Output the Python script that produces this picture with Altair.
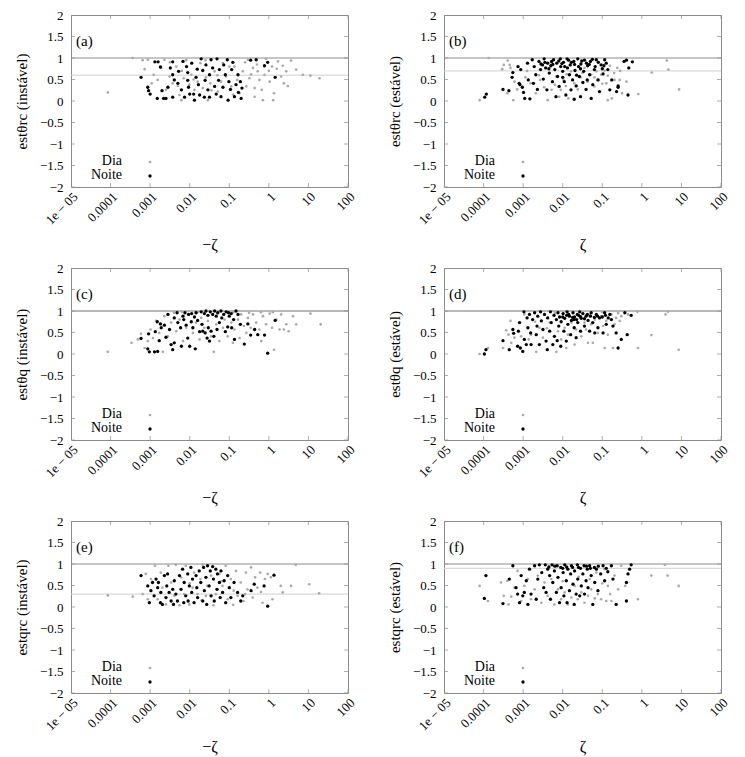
import altair as alt
import pandas as pd

FONT = "Liberation Serif"

# ---------------- axis ticks / labels ----------------
X_TICKS = [1e-5, 1e-4, 1e-3, 1e-2, 1e-1, 1, 10, 100]
X_LABELS = ["1e − 05", "0.0001", "0.001", "0.01", "0.1", "1", "10", "100"]
Y_TICKS = [-2, -1.5, -1, -0.5, 0, 0.5, 1, 1.5, 2]

# ---------------- panel metadata ----------------
PANEL_IDS = ["(a)", "(b)", "(c)", "(d)", "(e)", "(f)"]
Y_TITLES = ["estθrc (instável)", "estθrc (estável)",
            "estθq (instável)", "estθq (estável)",
            "estqrc (instável)", "estqrc (estável)"]
X_TITLES = ["−ζ", "ζ", "−ζ", "ζ", "−ζ", "ζ"]
REF_LINE = [0.6, 0.7, 1.0, 1.0, 0.3, 0.9]
GROUPS = ["Dia", "Noite"]
GROUP_COLORS = ["#a9a9a9", "#000000"]
GROUP_SIZES = [7, 11]

# ---------------- data: (log10 zeta, est) ----------------
A_NOITE = [(-3.23,.55),(-3.06,.32),(-3.04,.24),(-3.0,.16),(-2.88,.91),(-2.8,.91),(-2.82,.06),(-2.74,.79),(-2.7,.24),(-2.66,.06),(-2.6,.06),(-2.55,.32),(-2.49,.77),(-2.43,.61),(-2.43,.91),(-2.39,.49),(-2.43,.09),(-2.3,.41),(-2.28,.69),(-2.21,.26),(-2.17,.92),(-2.13,.09),(-2.08,.80),(-2.05,.66),(-2.05,.48),(-2.03,.32),(-2.0,.16),(-1.95,.88),(-1.9,.16),(-1.88,.02),(-1.84,.55),(-1.81,.74),(-1.78,.38),(-1.75,.14),(-1.71,.98),(-1.67,.71),(-1.63,.09),(-1.61,.48),(-1.59,.84),(-1.54,.26),(-1.5,.61),(-1.5,.09),(-1.46,.96),(-1.42,.77),(-1.37,.34),(-1.33,.16),(-1.31,.98),(-1.27,.48),(-1.25,.73),(-1.21,.10),(-1.16,.32),(-1.14,.84),(-1.1,.61),(-1.05,.96),(-1.03,.02),(-1.01,.45),(-0.97,.27),(-0.94,.73),(-0.91,.90),(-0.87,.10),(-0.83,.38),(-0.78,.61),(-0.77,.20),(-0.72,.45),(-0.7,.06),(-0.68,.30),(-0.46,.95),(-0.32,.96),(-0.11,.82),(-0.03,.90),(0.16,.55)]
A_DIA = [(-4.07,.2),(-3.44,1.0),(-3.19,.95),(-3.14,.74),(-3.06,.96),(-2.96,.41),(-2.91,.61),(-2.81,.49),(-2.72,.77),(-2.64,.96),(-2.6,.26),(-2.51,.57),(-2.43,.41),(-2.34,.8),(-2.26,.14),(-2.21,.02),(-2.15,.53),(-2.09,.95),(-2.01,.38),(-1.96,.61),(-1.88,.26),(-1.8,.45),(-1.73,.88),(-1.67,.3),(-1.59,.55),(-1.54,.02),(-1.48,.41),(-1.37,.69),(-1.29,.22),(-1.21,.45),(-1.16,.88),(-1.08,.57),(-0.95,.34),(-0.87,.8),(-0.8,.49),(-0.74,.18),(-0.66,.69),(-0.57,.34),(-0.53,.96),(-0.49,.53),(-0.4,.77),(-0.36,.3),(-0.28,.69),(-0.24,.49),(-0.18,.26),(-0.11,.61),(-0.07,.98),(0.02,.45),(0.08,.8),(0.11,.02),(0.13,.18),(0.23,.92),(0.31,.57),(0.38,.41),(0.44,.69),(0.48,.35),(0.56,.94),(0.69,.73),(0.86,.61),(1.05,.59),(1.28,.53),(-0.15,.02),(-0.36,.1),(-2.5,.9),(-2.2,.7),(-1.9,.5),(-1.6,.95),(-1.3,.6),(-1.0,.8),(-0.6,.9),(-0.3,.85),(0.0,.7),(0.2,.75),(-2.3,.35),(-1.45,.25),(-0.9,.15),(-0.45,.62),(0.35,.82)]

B_NOITE = [(-3.97,.09),(-3.93,.16),(-3.51,.27),(-3.36,.24),(-3.28,.55),(-3.26,.66),(-3.13,.8),(-3.1,.41),(-3.08,.38),(-3.06,.73),(-3.02,.32),(-2.99,.2),(-2.96,.06),(-2.89,.88),(-2.87,.49),(-2.83,.05),(-2.77,.96),(-2.74,.41),(-2.72,.8),(-2.68,.61),(-2.64,.27),(-2.6,.92),(-2.56,.73),(-2.51,.84),(-2.49,.51),(-2.47,.98),(-2.43,.77),(-2.4,.26),(-2.38,.88),(-2.34,.65),(-2.3,.82),(-2.26,.45),(-2.23,.96),(-2.2,.73),(-2.17,.1),(-2.15,.88),(-2.13,.57),(-2.09,.34),(-2.06,.98),(-2.05,.8),(-2.0,.69),(-1.98,.9),(-1.96,.45),(-1.92,.14),(-1.89,.98),(-1.88,.77),(-1.83,.61),(-1.81,.84),(-1.79,.26),(-1.75,.49),(-1.72,.92),(-1.71,.04),(-1.69,.71),(-1.66,.35),(-1.62,.98),(-1.6,.8),(-1.58,.57),(-1.55,.1),(-1.54,.86),(-1.49,.43),(-1.47,.69),(-1.45,.95),(-1.41,.27),(-1.38,.49),(-1.37,.82),(-1.32,.61),(-1.3,.92),(-1.28,.06),(-1.24,.38),(-1.2,.73),(-1.15,.96),(-1.11,.49),(-1.07,.22),(-1.03,.84),(-0.98,.63),(-0.94,.96),(-0.86,.73),(-0.81,.26),(-0.76,.49),(-0.64,.22),(-0.6,.35),(-0.45,.92),(-0.39,.95),(-0.33,.77),(-0.35,.14),(-0.24,.91),(-0.6,.32),(-2.45,.9),(-2.25,.85),(-2.1,.93),(-1.95,.8),(-1.85,.95),(-1.7,.85),(-1.55,.75),(-1.4,.88),(-1.25,.97),(-1.1,.9),(-1.0,.75),(-0.9,.88),(-2.35,.75),(-2.0,.55),(-1.65,.6),(-2.55,.86),(-2.28,.92),(-2.02,.87),(-1.78,.9),(-1.52,.93),(-1.33,.85),(-1.18,.8),(-0.96,.82)]
B_DIA = [(-4.1,.02),(-3.87,1.0),(-3.53,.74),(-3.49,.84),(-3.39,.94),(-3.34,.84),(-3.32,.77),(-3.25,.02),(-3.4,.18),(-3.22,.45),(-3.15,.27),(-2.94,.55),(-2.81,.41),(-2.68,.18),(-2.57,.49),(-2.47,.32),(-2.38,.02),(-2.28,.26),(-2.2,.38),(-2.17,.57),(-2.09,.1),(-2.05,.26),(-1.98,.49),(-1.92,.35),(-1.86,.06),(-1.79,.69),(-1.71,.41),(-1.62,.27),(-1.54,.55),(-1.45,.77),(-1.37,.45),(-1.28,.61),(-1.2,.34),(-1.15,.69),(-1.09,.49),(-1.03,.61),(-0.94,.71),(-0.9,.41),(-0.86,.59),(-0.81,.82),(-0.76,.06),(-0.69,.49),(-0.62,.77),(-0.56,.49),(-0.5,.18),(-0.39,.45),(-0.09,.16),(0.25,.66),(0.63,.94),(0.67,.73),(0.94,.27),(-0.86,.02),(-2.9,.7),(-2.6,.6),(-2.3,.9),(-1.9,.62),(-1.5,.65),(-1.2,.55),(-1.0,.4),(-0.7,.65),(-0.55,.7)]

C_NOITE = [(-3.23,.36),(-3.06,.12),(-3.02,.05),(-3.04,.47),(-2.89,.05),(-2.81,.06),(-2.87,.52),(-2.82,.75),(-2.77,.31),(-2.74,.7),(-2.72,.61),(-2.64,.67),(-2.6,.39),(-2.55,.92),(-2.51,.57),(-2.47,.22),(-2.43,.1),(-2.39,.26),(-2.39,.84),(-2.32,.96),(-2.3,.73),(-2.23,.61),(-2.21,.18),(-2.17,.88),(-2.15,.8),(-2.12,.96),(-2.09,.67),(-2.05,.37),(-2.03,.92),(-2.0,.18),(-1.96,.75),(-1.95,.94),(-1.92,.61),(-1.88,.86),(-1.86,.12),(-1.84,.96),(-1.8,.78),(-1.75,.52),(-1.71,.98),(-1.69,.69),(-1.67,.53),(-1.63,.94),(-1.61,.49),(-1.59,1.0),(-1.56,.37),(-1.54,.9),(-1.53,.61),(-1.5,.3),(-1.48,.98),(-1.46,.53),(-1.42,.92),(-1.39,.41),(-1.37,1.0),(-1.33,.88),(-1.31,.57),(-1.29,.96),(-1.25,.73),(-1.21,1.0),(-1.19,.84),(-1.14,.92),(-1.1,.52),(-1.08,.98),(-1.04,.63),(-1.02,.96),(-1.0,.88),(-0.95,.94),(-0.94,.61),(-0.89,.8),(-0.87,.34),(-0.83,1.0),(-0.78,.92),(-0.72,.69),(-0.62,.23),(-0.53,.7),(-0.36,.57),(-0.46,.44),(-0.28,.45),(-0.11,.44),(-0.03,.02),(0.16,.78)]
C_DIA = [(-4.07,.05),(-3.47,.26),(-3.31,.34),(-3.23,.47),(-3.14,.14),(-3.06,.3),(-2.99,.57),(-2.93,.37),(-2.85,.77),(-2.77,.49),(-2.68,.05),(-2.64,.88),(-2.55,.41),(-2.47,.73),(-2.4,.96),(-2.34,.53),(-2.26,.8),(-2.17,.3),(-2.09,.61),(-2.01,.92),(-1.92,.49),(-1.84,.73),(-1.75,.34),(-1.71,.84),(-1.63,.61),(-1.54,.77),(-1.46,.41),(-1.39,.05),(-1.33,.69),(-1.25,.3),(-1.16,.61),(-1.12,.8),(-1.04,.41),(-0.95,.73),(-0.91,.26),(-0.87,.57),(-0.78,.8),(-0.74,.37),(-0.7,.92),(-0.63,.65),(-0.57,.49),(-0.53,.84),(-0.46,.61),(-0.4,.92),(-0.32,.73),(-0.24,.57),(-0.19,.3),(-0.15,.88),(-0.07,.69),(0.02,.94),(0.08,.61),(0.13,.1),(0.19,.8),(0.31,.92),(0.38,.57),(0.44,.69),(0.5,.53),(0.61,.88),(0.69,.69),(1.05,.94),(1.31,.69),(0.27,.57),(-2.2,.98),(-1.8,.97),(-1.3,.95),(-0.9,.97),(-0.5,.96),(-0.2,.97),(0.1,.97)]

D_NOITE = [(-3.98,0.0),(-3.94,.1),(-3.51,.31),(-3.35,.1),(-3.26,.57),(-3.24,.48),(-3.14,.18),(-3.12,.53),(-3.09,.73),(-3.07,.14),(-3.01,.06),(-2.98,.98),(-2.97,.34),(-2.92,.22),(-2.9,.84),(-2.88,.61),(-2.84,.92),(-2.81,.49),(-2.8,.22),(-2.76,.8),(-2.71,.96),(-2.67,.45),(-2.65,.65),(-2.63,.88),(-2.59,.22),(-2.56,.98),(-2.54,.77),(-2.5,.57),(-2.46,.92),(-2.42,.3),(-2.39,.1),(-2.38,.84),(-2.33,.53),(-2.31,.98),(-2.29,.73),(-2.25,.22),(-2.22,.9),(-2.21,.41),(-2.16,.8),(-2.14,.31),(-2.12,.96),(-2.1,.65),(-2.08,.86),(-2.05,.18),(-2.04,.75),(-1.99,.94),(-1.97,.53),(-1.95,.83),(-1.91,.3),(-1.89,.98),(-1.87,.69),(-1.83,.88),(-1.8,.45),(-1.78,.78),(-1.74,.96),(-1.71,.61),(-1.7,.86),(-1.66,.38),(-1.63,.92),(-1.62,.73),(-1.57,.98),(-1.55,.53),(-1.53,.83),(-1.49,.94),(-1.45,.65),(-1.41,.88),(-1.36,.78),(-1.32,.53),(-1.28,.96),(-1.24,.73),(-1.19,.49),(-1.15,.92),(-1.11,.61),(-1.07,.84),(-0.98,.49),(-0.94,.96),(-0.9,.69),(-0.81,.92),(-0.77,.8),(-0.73,.65),(-0.65,.49),(-0.6,.14),(-0.52,.34),(-0.43,.96),(-0.37,.45),(-0.27,.9),(-1.9,.9),(-1.75,.85),(-1.6,.9),(-1.45,.82),(-1.3,.88),(-1.2,.85),(-1.0,.86),(-0.85,.84),(-2.0,.86),(-1.65,.8),(-1.85,.92),(-1.55,.87),(-1.38,.92),(-1.12,.88),(-0.92,.9),(-1.72,.8)]
D_DIA = [(-4.1,0.0),(-3.89,.14),(-3.51,.14),(-3.43,.55),(-3.37,.45),(-3.32,.77),(-3.3,.26),(-3.22,.38),(-3.05,.41),(-2.97,.92),(-2.86,.34),(-2.8,.45),(-2.67,.05),(-2.59,.61),(-2.5,.38),(-2.33,.73),(-2.16,.05),(-2.12,.53),(-2.04,.34),(-1.95,.61),(-1.91,.14),(-1.87,.45),(-1.78,.73),(-1.7,.22),(-1.66,.57),(-1.57,.84),(-1.53,.41),(-1.45,.73),(-1.41,.57),(-1.36,.26),(-1.32,.92),(-1.28,.69),(-1.24,.26),(-1.19,.8),(-1.11,.49),(-1.03,.88),(-0.98,.65),(-0.94,.14),(-0.9,.77),(-0.86,.45),(-0.77,.92),(-0.73,.14),(-0.69,.69),(-0.65,.84),(-0.56,.77),(-0.52,.88),(-0.35,.92),(-0.11,.98),(-0.1,.14),(0.24,.44),(0.6,.92),(0.66,.98),(0.93,.1),(-2.7,.75),(-2.4,.6),(-2.2,.95),(-1.5,.95),(-1.0,.97),(-0.6,.95)]

E_NOITE = [(-3.23,.73),(-3.06,.49),(-3.02,.1),(-2.98,.38),(-2.94,.57),(-2.9,.26),(-2.85,.65),(-2.81,.45),(-2.79,.57),(-2.74,.1),(-2.73,.34),(-2.69,.06),(-2.64,.73),(-2.6,.22),(-2.58,.49),(-2.56,.77),(-2.52,.34),(-2.47,.14),(-2.43,.41),(-2.41,.06),(-2.39,.61),(-2.35,.3),(-2.31,.14),(-2.26,.73),(-2.22,.41),(-2.18,.88),(-2.15,.1),(-2.14,.57),(-2.1,.26),(-2.05,.77),(-2.04,.14),(-2.01,.49),(-1.97,.92),(-1.95,.34),(-1.93,.65),(-1.89,.1),(-1.84,.73),(-1.82,.45),(-1.8,.22),(-1.76,.84),(-1.72,.57),(-1.67,.14),(-1.65,.92),(-1.63,.38),(-1.59,.69),(-1.57,.06),(-1.55,.96),(-1.51,.49),(-1.48,.84),(-1.46,.26),(-1.42,.94),(-1.4,.65),(-1.38,.14),(-1.34,.88),(-1.31,.41),(-1.3,.77),(-1.25,.57),(-1.23,.22),(-1.21,.84),(-1.17,.34),(-1.13,.61),(-1.09,.1),(-1.04,.73),(-1.0,.45),(-0.96,.22),(-0.88,.57),(-0.79,.34),(-0.71,.14),(-0.66,.26),(-0.45,.38),(-0.37,.53),(-0.12,.49),(-0.03,.02),(0.13,.74)]
E_DIA = [(-4.07,.27),(-3.44,.24),(-3.19,.3),(-3.11,.77),(-3.06,.18),(-2.98,.65),(-2.88,.96),(-2.81,.18),(-2.73,.8),(-2.69,.45),(-2.6,.06),(-2.54,.96),(-2.47,.57),(-2.39,.26),(-2.35,.98),(-2.26,.04),(-2.22,.69),(-2.14,.3),(-2.1,.96),(-2.01,.06),(-1.93,.45),(-1.89,.8),(-1.8,.3),(-1.73,.65),(-1.67,.98),(-1.59,.26),(-1.55,.49),(-1.46,.73),(-1.4,.04),(-1.34,.3),(-1.25,.77),(-1.17,.49),(-1.09,.96),(-1.04,.18),(-0.96,.65),(-0.89,.38),(-0.83,.84),(-0.79,.26),(-0.71,.57),(-0.64,.14),(-0.58,.8),(-0.54,.41),(-0.45,.92),(-0.41,.22),(-0.35,.69),(-0.29,.45),(-0.22,.8),(-0.16,.1),(-0.1,.65),(-0.03,.77),(0.05,.69),(0.09,.18),(0.3,.49),(0.35,.34),(0.56,.49),(0.68,.98),(1.02,.53),(1.27,.32),(-2.0,.55),(-1.7,.15),(-1.2,.6),(-0.9,.05),(-0.6,.3),(-0.2,.35)]

F_NOITE = [(-3.98,.2),(-3.94,.73),(-3.51,.08),(-3.35,.65),(-3.26,.96),(-3.18,.45),(-3.14,.3),(-3.09,.1),(-3.05,.73),(-3.01,.26),(-2.97,.34),(-2.92,.61),(-2.88,.06),(-2.84,.88),(-2.8,.3),(-2.71,.96),(-2.67,.18),(-2.63,.65),(-2.59,.98),(-2.53,.8),(-2.48,.45),(-2.44,.98),(-2.42,.34),(-2.38,.88),(-2.33,.73),(-2.31,.18),(-2.27,.98),(-2.25,.57),(-2.21,.84),(-2.16,.34),(-2.14,.96),(-2.12,.69),(-2.08,.1),(-2.05,.92),(-2.04,.45),(-1.99,.8),(-1.97,.26),(-1.95,.98),(-1.91,.61),(-1.89,.1),(-1.87,.88),(-1.83,.38),(-1.8,.77),(-1.78,.96),(-1.74,.53),(-1.71,.06),(-1.7,.84),(-1.66,.3),(-1.63,.98),(-1.62,.65),(-1.57,.26),(-1.55,.9),(-1.53,.49),(-1.49,.77),(-1.46,.96),(-1.45,.3),(-1.41,.61),(-1.38,.88),(-1.36,.45),(-1.32,.96),(-1.28,.73),(-1.24,.06),(-1.19,.57),(-1.15,.88),(-1.11,.38),(-1.04,.77),(-0.98,.96),(-0.94,.61),(-0.86,.82),(-0.77,.96),(-0.73,.65),(-0.65,.06),(-0.39,.57),(-0.39,.14),(-0.35,.77),(-0.31,.88),(-0.27,.98),(-2.2,.95),(-1.9,.93),(-1.6,.92),(-1.3,.9),(-1.1,.95),(-2.35,.93),(-2.0,.9),(-1.75,.92),(-1.4,.95),(-1.2,.92),(-0.9,.9)]
F_DIA = [(-4.1,.49),(-3.89,.14),(-3.56,.57),(-3.49,.26),(-3.4,.61),(-3.37,.06),(-3.3,.24),(-3.22,.45),(-3.14,.84),(-3.05,.14),(-2.97,.49),(-2.88,.65),(-2.8,.18),(-2.71,.41),(-2.63,.73),(-2.54,.1),(-2.46,.57),(-2.38,.26),(-2.29,.65),(-2.21,.06),(-2.12,.41),(-2.04,.18),(-1.95,.34),(-1.87,.06),(-1.78,.22),(-1.7,.49),(-1.62,.18),(-1.53,.34),(-1.45,.1),(-1.36,.26),(-1.28,.41),(-1.19,.2),(-1.11,.3),(-1.03,.18),(-0.94,.88),(-0.9,.14),(-0.86,.49),(-0.77,.14),(-0.69,.73),(-0.6,.41),(-0.52,.96),(-0.42,.49),(-0.1,.18),(0.24,.73),(0.58,.98),(0.65,.73),(0.93,.49),(-1.15,.8),(-1.32,.65),(-1.6,.7),(-2.0,.6),(-0.8,.3),(-1.0,.55)]

PANEL_DATA = [(A_DIA, A_NOITE), (B_DIA, B_NOITE), (C_DIA, C_NOITE),
              (D_DIA, D_NOITE), (E_DIA, E_NOITE), (F_DIA, F_NOITE)]

W, H = 277, 172


def label_expr():
    e = f"'{X_LABELS[-1]}'"
    for t, s in reversed(list(zip(X_TICKS[:-1], X_LABELS[:-1]))):
        e = f"datum.value < {t * 3:g} ? '{s}' : {e}"
    return e


def panel(i):
    dia, noite = PANEL_DATA[i]
    rows = [{"zeta": 10 ** lx, "est": y, "grupo": "Dia"} for lx, y in dia]
    rows += [{"zeta": 10 ** lx, "est": y, "grupo": "Noite"} for lx, y in noite]
    df = pd.DataFrame(rows)

    xs = alt.Scale(type="log", domain=[1e-5, 100])
    ys = alt.Scale(domain=[-2, 2])
    xaxis = alt.Axis(values=X_TICKS, labelExpr=label_expr(), labelAngle=-45,
                     ticks=False, domain=False, grid=False, labelPadding=3,
                     labelFontSize=13, title=X_TITLES[i], titleFontSize=16,
                     titlePadding=10 if i < 4 else 6, labelFont=FONT, titleFont=FONT,
                     titleFontWeight="normal", labelColor="black", titleColor="black")
    yaxis = alt.Axis(values=Y_TICKS, format="~g", ticks=False, domain=False, grid=False,
                     labelPadding=8, labelFontSize=13, title=Y_TITLES[i],
                     titleFontSize=15, titlePadding=10, labelFont=FONT, titleFont=FONT,
                     titleFontWeight="normal", labelColor="black", titleColor="black")
    X = lambda f: alt.X(f, scale=xs, axis=xaxis)
    Y = lambda f: alt.Y(f, scale=ys, axis=yaxis)

    refs = pd.DataFrame({"v": [REF_LINE[i], 1.0], "c": ["#d0d0d0", "#8c8c8c"]})
    rules = alt.Chart(refs).mark_rule(strokeWidth=1).encode(
        y=Y("v:Q"), color=alt.Color("c:N", scale=None))

    ytk = pd.DataFrame({"v": Y_TICKS})
    xtk = pd.DataFrame({"v": X_TICKS})
    tk = dict(size=8, thickness=1, color="#8c8c8c", clip=True)
    yt_l = alt.Chart(ytk).mark_tick(orient="horizontal", **tk).encode(y=Y("v:Q"), x=alt.value(0))
    yt_r = alt.Chart(ytk).mark_tick(orient="horizontal", **tk).encode(y=Y("v:Q"), x=alt.value(W))
    xt_b = alt.Chart(xtk).mark_tick(orient="vertical", **tk).encode(x=X("v:Q"), y=alt.value(H))
    xt_t = alt.Chart(xtk).mark_tick(orient="vertical", **tk).encode(x=X("v:Q"), y=alt.value(0))

    pts = alt.Chart(df).mark_circle(opacity=1).encode(
        x=X("zeta:Q"), y=Y("est:Q"),
        color=alt.Color("grupo:N", scale=alt.Scale(domain=GROUPS, range=GROUP_COLORS), legend=None),
        size=alt.Size("grupo:N", scale=alt.Scale(domain=GROUPS, range=GROUP_SIZES), legend=None),
    )

    lab = alt.Chart(pd.DataFrame({"t": [PANEL_IDS[i]]})).mark_text(
        align="left", baseline="middle", font=FONT, fontSize=15, color="black"
    ).encode(text="t:N", x=alt.value(5), y=alt.value(26))

    # in-plot legend (label to the left of its symbol, as in the original)
    legend_layers = []
    for k, g in enumerate(GROUPS):
        ly = 146 + 14 * k
        gdf = pd.DataFrame({"g": [g]})
        legend_layers.append(
            alt.Chart(gdf).mark_text(align="right", baseline="middle", font=FONT,
                                     fontSize=14, color="black")
            .encode(text="g:N", x=alt.value(51), y=alt.value(ly)))
        legend_layers.append(
            alt.Chart(gdf).mark_circle(opacity=1, color=GROUP_COLORS[k], size=GROUP_SIZES[k])
            .encode(x=alt.value(79), y=alt.value(ly + 1)))

    return alt.layer(rules, yt_l, yt_r, xt_b, xt_t, pts, lab, *legend_layers).properties(width=W, height=H)


chart = (
    alt.concat(*[panel(i) for i in range(6)], columns=2,
               spacing=alt.RowColnumber(row=81, column=96), bounds="flush")
    .properties(padding={"left": 5, "top": 0, "right": 5, "bottom": 0},
                background="white")
    .configure_view(stroke="#8c8c8c", strokeWidth=1)
)

chart.save("out.html", embed_options={"renderer": "svg", "actions": False})
